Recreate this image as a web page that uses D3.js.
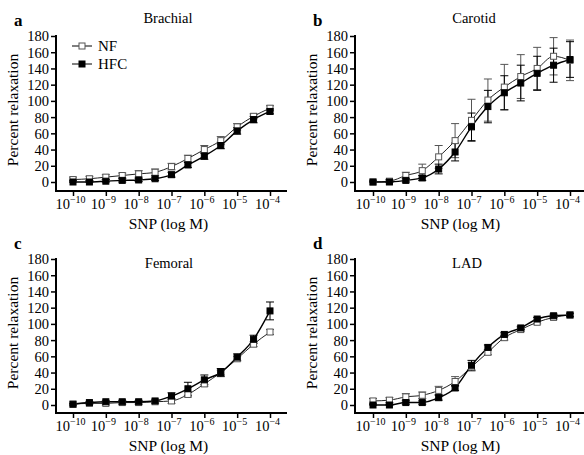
<!DOCTYPE html>
<html>
<head>
<meta charset="utf-8">
<script src="https://cdn.jsdelivr.net/npm/d3@7"></script>
<style>
  body { margin: 0; background: #fff; }
  text { font-family: "Liberation Serif", "Times New Roman", serif; fill: #000; }
</style>
</head>
<body>
<div id="chart"></div>
<script>
// log10 molar SNP concentrations (half-log steps)
const logDoses = [-10, -9.5, -9, -8.5, -8, -7.5, -7, -6.5, -6, -5.5, -5, -4.5, -4];
const xTicks = [-10, -9, -8, -7, -6, -5, -4];
const yTicks = [0, 20, 40, 60, 80, 100, 120, 140, 160, 180];

// Brachial
const brachialNF = [3, 4, 6, 8, 10, 12, 19, 29, 40, 51, 68, 81, 91];
const brachialNFerr = [3, 3, 3, 3, 4, 4, 4, 4, 5, 5, 4, 3, 3];
const brachialHFC = [0, 0, 1, 2, 2.5, 4, 9, 21, 32, 45, 63, 77, 87];
const brachialHFCerr = [2, 2, 2, 2, 2, 2, 3, 3, 4, 4, 4, 4, 3];

// Carotid
const carotidNF = [0, 1, 8, 14, 31, 51, 76, 101, 117, 130, 140, 155, 150];
const carotidNFerr = [2, 2, 4, 8, 14, 21, 26, 26, 28, 27, 26, 23, 25];
const carotidHFC = [0, 0, 2, 5, 16, 37, 68, 93, 110, 122, 134, 144, 151];
const carotidHFCerr = [1, 1, 2, 3, 6, 11, 17, 20, 21, 22, 21, 21, 22];

// Femoral
const femoralNF = [1, 2, 2, 3, 3, 4, 5, 13, 26, 40, 57, 75, 90];
const femoralNFerr = [1, 1, 2, 2, 2, 2, 3, 3, 3, 3, 3, 3, 3];
const femoralHFC = [1, 3, 4, 4, 4, 5, 11, 20, 31, 40, 59, 81, 116];
const femoralHFCerr = [1, 1, 1, 1, 1, 1, 4, 8, 6, 5, 4, 5, 11];

// LAD
const ladNF = [5, 6, 10, 12, 18, 29, 47, 65, 83, 93, 102, 108, 111];
const ladNFerr = [3, 3, 4, 4, 5, 6, 5, 3, 3, 2, 2, 2, 2];
const ladHFC = [0, 0, 3, 3, 9, 21, 49, 71, 87, 95, 106, 110, 111];
const ladHFCerr = [1, 1, 2, 2, 3, 3, 6, 3, 2, 2, 2, 2, 2];

const panels = [
  { letter: "a", title: "Brachial", nf: brachialNF, nfErr: brachialNFerr, hfc: brachialHFC, hfcErr: brachialHFCerr,
    left: 56, top: 36, bottom: 182, axisY: 191, x0: 73, x1: 270, right: 287, titleX: 168, titleY: 23, legend: true },
  { letter: "b", title: "Carotid", nf: carotidNF, nfErr: carotidNFerr, hfc: carotidHFC, hfcErr: carotidHFCerr,
    left: 355, top: 36, bottom: 182, axisY: 191, x0: 373, x1: 570, right: 584, titleX: 474, titleY: 23 },
  { letter: "c", title: "Femoral", nf: femoralNF, nfErr: femoralNFerr, hfc: femoralHFC, hfcErr: femoralHFCerr,
    left: 56, top: 259, bottom: 405, axisY: 413, x0: 73, x1: 270, right: 287, titleX: 169, titleY: 268 },
  { letter: "d", title: "LAD", nf: ladNF, nfErr: ladNFerr, hfc: ladHFC, hfcErr: ladHFCerr,
    left: 355, top: 259, bottom: 405, axisY: 413, x0: 373, x1: 570, right: 584, titleX: 467, titleY: 268 }
];

const svg = d3.select("#chart").append("svg").attr("width", 584).attr("height", 455);

const sup = { "-10": "−10", "-9": "−9", "-8": "−8", "-7": "−7", "-6": "−6", "-5": "−5", "-4": "−4" };

panels.forEach(p => {
  const x = d3.scaleLinear().domain([-10, -4]).range([p.x0, p.x1]);
  const y = d3.scaleLinear().domain([0, 180]).range([p.bottom, p.top]);
  const g = svg.append("g");

  // y axis
  const yAxis = g.append("g").attr("transform", `translate(${p.left},0)`)
    .call(d3.axisLeft(y).tickValues(yTicks).tickSize(5).tickPadding(2));
  yAxis.select(".domain").attr("d", `M0,${p.top - 1}V${p.axisY}`).attr("stroke-width", 2);
  yAxis.selectAll(".tick line").attr("stroke-width", 1.5);
  yAxis.selectAll(".tick text").style("font-size", "14.5px").attr("dy", "0.34em");

  // x axis
  const xAxis = g.append("g").attr("transform", `translate(0,${p.axisY})`)
    .call(d3.axisBottom(x).tickValues(xTicks).tickSize(5).tickFormat(""));
  xAxis.select(".domain").attr("d", `M${p.left - 1},0H${p.right}`).attr("stroke-width", 2);
  xAxis.selectAll(".tick line").attr("stroke-width", 1.5);
  xAxis.selectAll(".tick text").remove();
  xAxis.selectAll(".tick").append("text")
    .attr("y", 18).attr("x", -3)
    .attr("text-anchor", "middle")
    .style("font-size", "14.5px")
    .each(function (d) {
      const t = d3.select(this);
      t.append("tspan").text("10");
      t.append("tspan").attr("dy", -6).style("font-size", "10px").text(sup[String(d)]);
    });

  // axis titles
  g.append("text").attr("x", (p.left + p.right) / 2 - 3 + (p.letter === "b" || p.letter === "d" ? -6 : 0))
    .attr("y", p.axisY + 38).attr("text-anchor", "middle").style("font-size", "15.5px").text("SNP (log M)");
  g.append("text").attr("transform", `translate(${p.left - 38},${(p.top + p.bottom) / 2 + 1}) rotate(-90)`)
    .attr("text-anchor", "middle").style("font-size", "15.5px").text("Percent relaxation");

  g.append("text").attr("x", p.left - 42).attr("y", p.top - 10)
    .style("font-size", "17px").style("font-weight", "bold").text(p.letter);
  g.append("text").attr("x", p.titleX).attr("y", p.titleY).attr("text-anchor", "middle")
    .style("font-size", "14.5px").text(p.title);

  const series = [
    { vals: p.nf, err: p.nfErr, fill: "#fff", stroke: "#555", lineW: 1 },
    { vals: p.hfc, err: p.hfcErr, fill: "#000", stroke: "#000", lineW: 1.4 }
  ];

  const line = d3.line().x((d, i) => x(logDoses[i])).y(d => y(d)).curve(d3.curveMonotoneX);

  series.forEach(s => {
    const eb = g.append("g");
    s.vals.forEach((v, i) => {
      const cx = x(logDoses[i]);
      const hi = y(v + s.err[i]), lo = y(Math.max(0, v - s.err[i]));
      eb.append("line").attr("x1", cx).attr("x2", cx).attr("y1", hi).attr("y2", lo).attr("stroke", s.stroke).attr("stroke-width", 1);
      eb.append("line").attr("x1", cx - 4).attr("x2", cx + 4).attr("y1", hi).attr("y2", hi).attr("stroke", s.stroke).attr("stroke-width", 1);
      eb.append("line").attr("x1", cx - 4).attr("x2", cx + 4).attr("y1", lo).attr("y2", lo).attr("stroke", s.stroke).attr("stroke-width", 1);
    });
  });

  series.forEach(s => {
    g.append("path").datum(s.vals).attr("d", line).attr("fill", "none")
      .attr("stroke", s.stroke === "#000" ? "#000" : "#222").attr("stroke-width", s.lineW);
  });

  series.forEach(s => {
    g.selectAll(null).data(s.vals).join("rect")
      .attr("x", (d, i) => x(logDoses[i]) - 3).attr("y", d => y(d) - 3)
      .attr("width", 6).attr("height", 6)
      .attr("fill", s.fill).attr("stroke", s.stroke).attr("stroke-width", 1);
  });

  if (p.legend) {
    const items = [
      { label: "NF", fill: "#fff", stroke: "#555", ly: 46 },
      { label: "HFC", fill: "#000", stroke: "#000", ly: 64 }
    ];
    items.forEach(it => {
      g.append("line").attr("x1", 72).attr("x2", 92).attr("y1", it.ly).attr("y2", it.ly).attr("stroke", "#000").attr("stroke-width", 1);
      g.append("rect").attr("x", 79).attr("y", it.ly - 3).attr("width", 6).attr("height", 6)
        .attr("fill", it.fill).attr("stroke", it.stroke);
      g.append("text").attr("x", 98).attr("y", it.ly + 5).style("font-size", "15px").text(it.label);
    });
  }
});
</script>
</body>
</html>
